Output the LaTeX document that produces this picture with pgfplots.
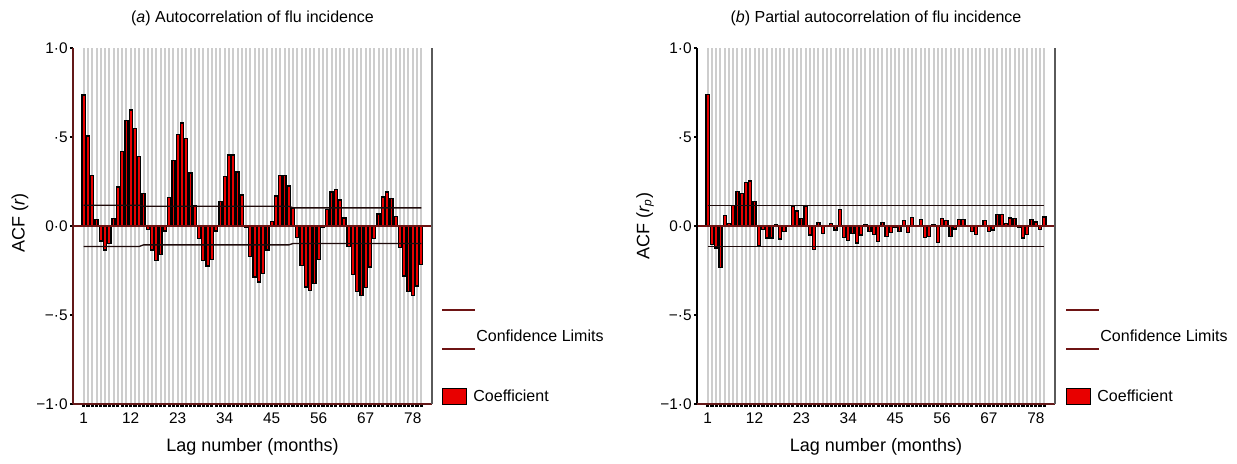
\documentclass[border=0pt]{standalone}
\usepackage{fontspec}
\setmainfont{Liberation Sans}
\usepackage{pgfplots}
\usepackage{pgfplotstable}
\pgfplotsset{compat=1.18}
\definecolor{barred}{RGB}{232,0,0}
\definecolor{axred}{RGB}{100,25,25}
\definecolor{zerored}{RGB}{110,20,20}
\definecolor{gridgray}{RGB}{205,205,205}
\definecolor{framegray}{RGB}{90,90,90}
\definecolor{confc}{RGB}{30,10,10}

\pgfplotstableread{
lag r
1 0.736
2 0.506
3 0.285
4 0.037
5 -0.084
6 -0.135
7 -0.097
8 0.043
9 0.219
10 0.419
11 0.594
12 0.652
13 0.549
14 0.391
15 0.184
16 -0.019
17 -0.135
18 -0.193
19 -0.159
20 -0.028
21 0.161
22 0.369
23 0.515
24 0.579
25 0.492
26 0.298
27 0.116
28 -0.069
29 -0.193
30 -0.225
31 -0.187
32 -0.028
33 0.139
34 0.277
35 0.399
36 0.399
37 0.303
38 0.174
39 -0.009
40 -0.170
41 -0.287
42 -0.315
43 -0.266
44 -0.135
45 0.024
46 0.169
47 0.285
48 0.285
49 0.225
50 0.101
51 -0.066
52 -0.221
53 -0.343
54 -0.361
55 -0.322
56 -0.187
57 -0.009
58 0.094
59 0.191
60 0.204
61 0.146
62 0.045
63 -0.116
64 -0.273
65 -0.367
66 -0.391
67 -0.346
68 -0.230
69 -0.071
70 0.067
71 0.163
72 0.191
73 0.154
74 0.052
75 -0.122
76 -0.281
77 -0.367
78 -0.391
79 -0.337
80 -0.217
}\acftable

\pgfplotstableread{
lag rp
1 0.740
2 -0.103
3 -0.124
4 -0.232
5 0.058
6 0.015
7 0.114
8 0.195
9 0.182
10 0.243
11 0.253
12 0.137
13 -0.111
14 -0.021
15 -0.067
16 -0.067
17 0.008
18 -0.073
19 -0.031
20 0.002
21 0.112
22 0.085
23 0.042
24 0.112
25 -0.050
26 -0.133
27 0.021
28 -0.043
29 -0.003
30 0.015
31 -0.023
32 0.094
33 -0.066
34 -0.080
35 -0.043
36 -0.096
37 -0.050
38 0.008
39 -0.030
40 -0.049
41 -0.087
42 0.021
43 -0.060
44 -0.036
45 -0.009
46 -0.032
47 0.030
48 -0.037
49 0.049
50 0.002
51 0.036
52 -0.066
53 -0.058
54 0.007
55 -0.094
56 0.041
57 0.030
58 -0.060
59 -0.017
60 0.036
61 0.036
62 0.002
63 -0.032
64 -0.049
65 0.002
66 0.030
67 -0.032
68 -0.022
69 0.066
70 0.066
71 0.015
72 0.045
73 0.041
74 -0.009
75 -0.067
76 -0.049
77 0.036
78 0.022
79 -0.021
80 0.051
}\pacftable

\pgfplotsset{
  acfpanel/.style={
    scale only axis,
    height=178pt,
    xmin=-1.5, xmax=82.5,
    ymin=-1, ymax=1,
    clip=false,
    axis line style={draw=none},
    xtick={1,...,80},
    xticklabels={},
    extra x ticks={1,12,23,34,45,56,67,78},
    extra x tick labels={1,12,23,34,45,56,67,78},
    extra x tick style={major tick length=0pt, grid=none},
    xmajorgrids,
    major grid style={gridgray, line width=1pt},
    ytick={-1,-0.5,0,0.5,1},
    yticklabels={−1·0,−·5,0·0,·5,1·0},
    tick align=outside,
    xtick pos=bottom,
    ytick pos=left,
    major tick length=1.5pt,
    xtick style={line width=1.6pt, black},
    ytick style={line width=0.75pt, black},
    /pgf/number format/assume math mode=true,
    ticklabel style={font=\fontsize{7.7}{9}\selectfont},
    yticklabel style={inner sep=1pt},
    xticklabel style={yshift=-1.5pt},
  },
  coefbar/.style={ybar, bar width=0.72, fill=barred, draw=black, line width=0.65pt},
}

\begin{document}
\begin{tikzpicture}
\path[use as bounding box] (0,0) rectangle (618.5pt,231.5pt);
\fontsize{8}{9.6}\selectfont

% (a) ACF
\begin{axis}[acfpanel, width=179.5pt, at={(36.5pt,29.5pt)}, anchor=south west]
\addplot[coefbar] table[x=lag, y=r] {\acftable};
\addplot[confc, line width=0.65pt] coordinates {(1,0.117) (14,0.117) (15,0.111) (49,0.111) (50,0.102) (80,0.102)};
\addplot[confc, line width=0.65pt] coordinates {(1,-0.115) (14,-0.115) (15,-0.106) (49,-0.106) (50,-0.098) (80,-0.098)};
\draw[zerored, line width=0.8pt] (axis cs:-1.5,0) -- (axis cs:82.5,0);
\draw[axred, line width=0.8pt] (rel axis cs:0,0) -- (rel axis cs:0,1);
\draw[axred, line width=0.8pt] (rel axis cs:0,0) -- (rel axis cs:1,0);
\draw[framegray, line width=1pt] (rel axis cs:1,0) -- (rel axis cs:1,1);
\end{axis}

% (b) PACF
\begin{axis}[acfpanel, width=179pt, at={(348.5pt,29.5pt)}, anchor=south west]
\addplot[coefbar] table[x=lag, y=rp] {\pacftable};
\addplot[confc, line width=0.65pt] coordinates {(1,0.117) (80,0.117)};
\addplot[confc, line width=0.65pt] coordinates {(1,-0.116) (80,-0.116)};
\draw[zerored, line width=0.8pt] (axis cs:-1.5,0) -- (axis cs:82.5,0);
\draw[black, line width=0.8pt] (rel axis cs:0,0) -- (rel axis cs:0,1);
\draw[axred, line width=0.8pt] (rel axis cs:0,0) -- (rel axis cs:1,0);
\draw[framegray, line width=1pt] (rel axis cs:1,0) -- (rel axis cs:1,1);
\end{axis}

% titles and axis labels
\node at (126.25pt,222.5pt) {(\textit{a}) Autocorrelation of flu incidence};
\node at (438pt,222.5pt) {(\textit{b}) Partial autocorrelation of flu incidence};
\begin{scope}[font=\fontsize{9}{10.8}\selectfont]
\node at (126.25pt,8pt) {Lag number (months)};
\node at (438pt,8pt) {Lag number (months)};
\node[rotate=90] at (10pt,120pt) {ACF (\textit{r})};
\node[rotate=90] at (322.5pt,118.5pt) {ACF (\textit{r}\textsubscript{\textit{p}})};
\end{scope}

% legends
\foreach \dx in {0pt,312pt} {
  \draw[zerored, line width=0.55pt] (221pt+\dx,76.5pt) -- (237.5pt+\dx,76.5pt);
  \draw[zerored, line width=0.55pt] (221pt+\dx,57pt) -- (237.5pt+\dx,57pt);
  \node[anchor=west, inner sep=0pt] at (238pt+\dx,63.5pt) {Confidence Limits};
  \draw[black, fill=barred, line width=0.5pt] (221.25pt+\dx,29.5pt) rectangle (233.25pt+\dx,37.5pt);
  \node[anchor=west, inner sep=0pt] at (236.5pt+\dx,33.5pt) {Coefficient};
}
\end{tikzpicture}
\end{document}
